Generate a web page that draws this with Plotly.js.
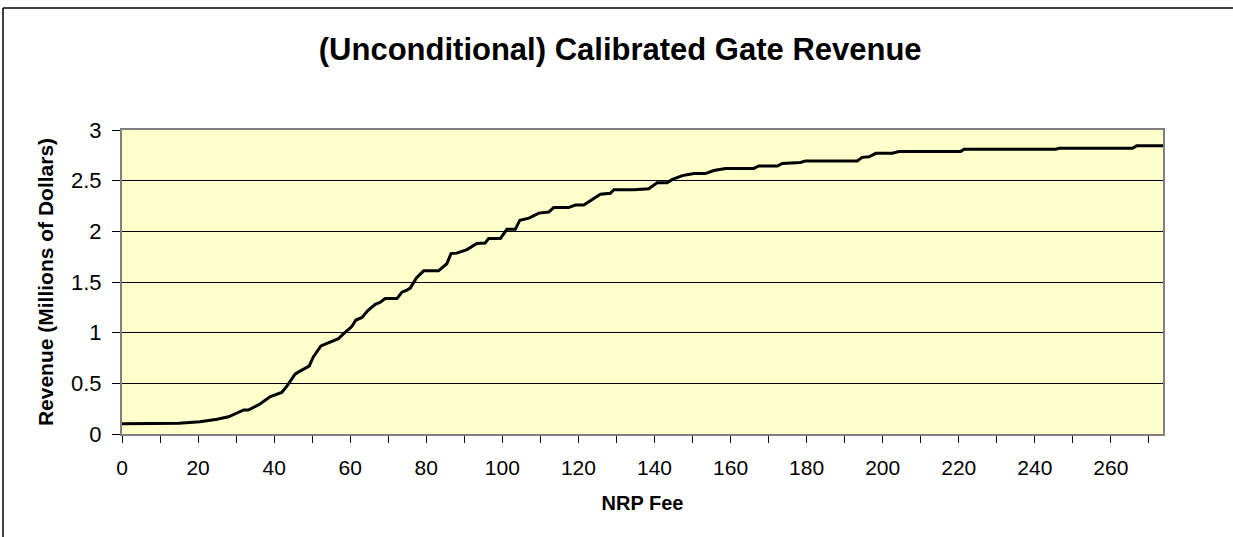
<!DOCTYPE html>
<html>
<head>
<meta charset="utf-8">
<script src="https://cdn.plot.ly/plotly-3.0.1.min.js"></script>
<style>html,body{margin:0;padding:0;background:#fff;overflow:hidden;}#chart{width:1233px;height:537px;}</style>
</head>
<body>
<div id="chart"></div>
<script>
const chartTitle = "(Unconditional) Calibrated Gate Revenue";
const xTitle = "NRP Fee";
const yTitle = "Revenue (Millions of Dollars)";

const fee = [0, 10.8, 15, 20.5, 25, 28, 30.2, 32, 33.2, 36, 39, 42, 43.3, 45.5, 46.8, 49.2, 50.3, 52.3, 53.9, 56.9, 58, 59.6, 60.4, 61.5, 63.1, 64.7, 66.6, 67.9, 69.2, 72.3, 73.6, 74.9, 75.8, 77.4, 79.3, 83.2, 85.4, 86.5, 88, 90.7, 93.3, 95.5, 96.4, 99.5, 101.2, 103.4, 104.6, 107, 109.6, 112.2, 113.5, 117.4, 119.2, 121.4, 123.6, 125.8, 128.4, 129.3, 134.6, 138.5, 140.7, 143.3, 144.6, 147.3, 150.4, 153.4, 155.6, 158.7, 166.1, 167.4, 172.3, 173.6, 178.4, 179.7, 193.3, 194.6, 196.4, 198.2, 202.5, 204.3, 220.5, 221.4, 245.5, 246.4, 265.7, 266.8, 273.7];

const revenue = [0.10, 0.10, 0.105, 0.12, 0.145, 0.17, 0.21, 0.237, 0.237, 0.29, 0.37, 0.41, 0.47, 0.59, 0.62, 0.67, 0.76, 0.87, 0.895, 0.94, 0.98, 1.04, 1.06, 1.125, 1.15, 1.22, 1.28, 1.30, 1.336, 1.336, 1.40, 1.42, 1.44, 1.54, 1.61, 1.61, 1.68, 1.78, 1.785, 1.82, 1.88, 1.885, 1.93, 1.93, 2.02, 2.02, 2.11, 2.13, 2.18, 2.19, 2.234, 2.234, 2.26, 2.26, 2.317, 2.366, 2.376, 2.41, 2.41, 2.42, 2.48, 2.48, 2.51, 2.55, 2.57, 2.57, 2.60, 2.62, 2.62, 2.645, 2.645, 2.67, 2.68, 2.695, 2.695, 2.73, 2.735, 2.77, 2.77, 2.787, 2.787, 2.81, 2.81, 2.82, 2.82, 2.845, 2.845];

const FONT = "Liberation Sans, Arial, sans-serif";

const trace = {
  x: fee, y: revenue, type: "scatter", mode: "lines",
  line: {color: "#000000", width: 3, shape: "linear"},
  hoverinfo: "x+y", showlegend: false
};

const layout = {
  width: 1233, height: 537,
  margin: {l: 122, r: 70, t: 130, b: 103, pad: 0},
  paper_bgcolor: "#ffffff",
  plot_bgcolor: "#FFFFCC",
  font: {family: FONT, color: "#000000", size: 20},
  title: {
    text: chartTitle,
    font: {family: FONT, size: 31, color: "#000000", weight: "bold"},
    x: 0.503, xref: "container", xanchor: "center",
    y: 0.908, yref: "container", yanchor: "middle"
  },
  xaxis: {
    range: [0, 273.7], dtick: 20, tick0: 0,
    ticks: "outside", ticklen: 7, tickcolor: "#000000", tickwidth: 1,
    minor: {dtick: 10, tick0: 0, ticks: "outside", ticklen: 7, tickcolor: "#000000", tickwidth: 1, showgrid: false},
    showgrid: false, zeroline: false,
    showline: true, linecolor: "#808080", linewidth: 2, mirror: true,
    tickfont: {family: FONT, size: 21, color: "#000000"},
    ticklabelstandoff: 7,
    title: {text: xTitle, font: {family: FONT, size: 20, weight: "bold", color: "#000000"}, standoff: 18},
    fixedrange: true
  },
  yaxis: {
    range: [0, 3], dtick: 0.5, tick0: 0,
    ticks: "outside", ticklen: 8, tickcolor: "#000000", tickwidth: 1,
    showgrid: true, gridcolor: "#000000", gridwidth: 1,
    zeroline: false,
    showline: true, linecolor: "#808080", linewidth: 2, mirror: true,
    tickfont: {family: FONT, size: 22, color: "#000000"},
    ticklabelstandoff: 6,
    title: {text: yTitle, font: {family: FONT, size: 21, weight: "bold", color: "#000000"}, standoff: 12},
    fixedrange: true
  },
  shapes: [
    {type: "line", xref: "paper", yref: "paper", x0: -0.1143, x1: 1.0672, y0: 1.401, y1: 1.401, line: {color: "#000000", width: 1.5}},
    {type: "line", xref: "paper", yref: "paper", x0: -0.1143, x1: -0.1143, y0: 1.401, y1: -0.3388, line: {color: "#000000", width: 1.5}}
  ]
};

Plotly.newPlot("chart", [trace], layout, {displayModeBar: false, staticPlot: true});
</script>
</body>
</html>
